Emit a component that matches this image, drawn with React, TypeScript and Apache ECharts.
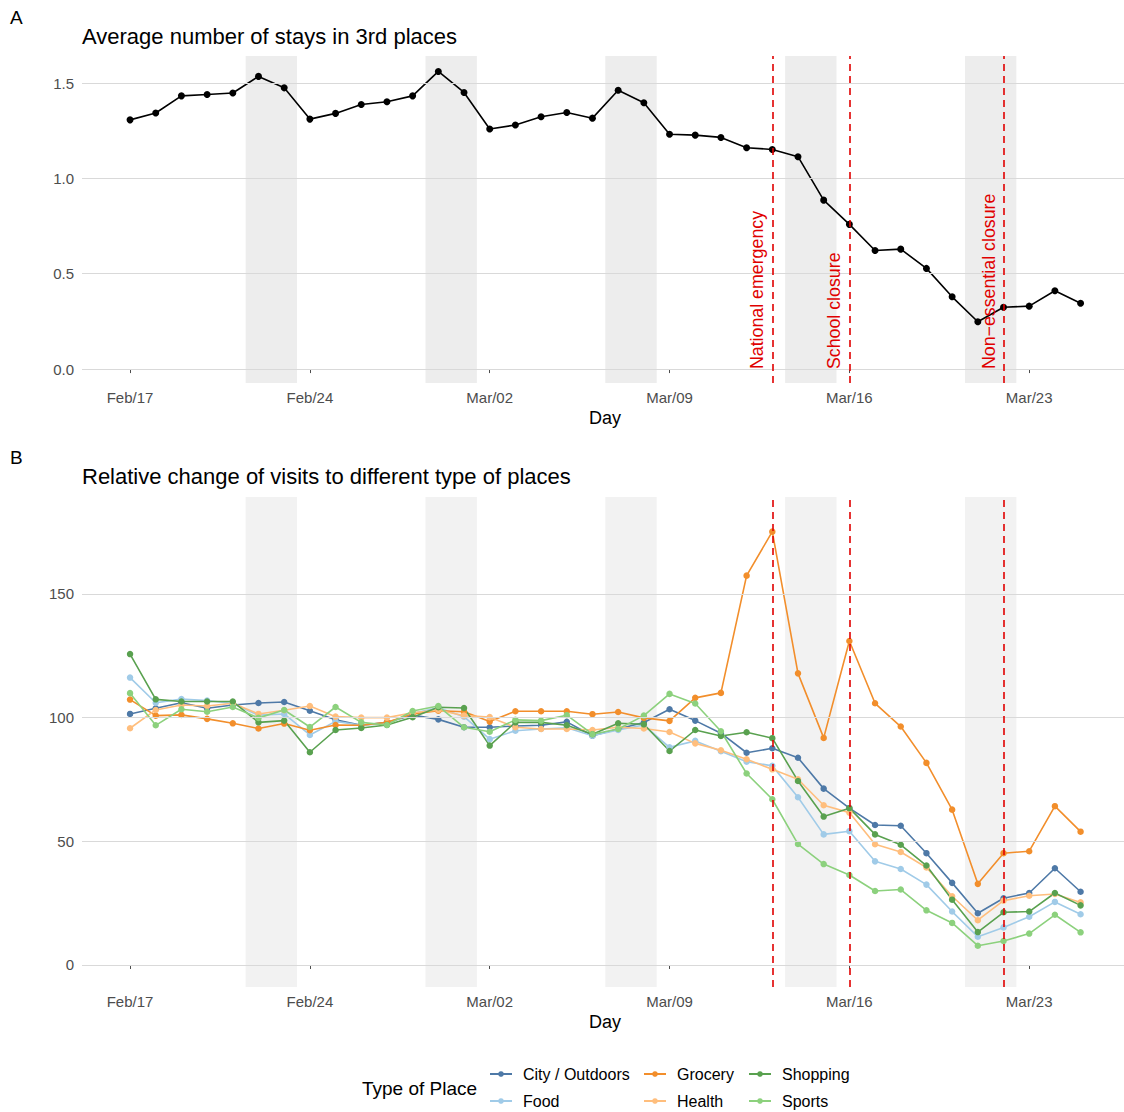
import React, { useEffect, useRef } from "react";
import * as echarts from "echarts";

// Daily axis, Feb 17 to Mar 25 2020
const days = [
  "Feb/17", "Feb/18", "Feb/19", "Feb/20", "Feb/21", "Feb/22", "Feb/23", "Feb/24",
  "Feb/25", "Feb/26", "Feb/27", "Feb/28", "Feb/29", "Mar/01", "Mar/02", "Mar/03",
  "Mar/04", "Mar/05", "Mar/06", "Mar/07", "Mar/08", "Mar/09", "Mar/10", "Mar/11",
  "Mar/12", "Mar/13", "Mar/14", "Mar/15", "Mar/16", "Mar/17", "Mar/18", "Mar/19",
  "Mar/20", "Mar/21", "Mar/22", "Mar/23", "Mar/24", "Mar/25",
];
const tickDays = ["Feb/17", "Feb/24", "Mar/02", "Mar/09", "Mar/16", "Mar/23"];

// Weekends (shaded bands)
const weekends = [
  ["Feb/22", "Feb/23"],
  ["Feb/29", "Mar/01"],
  ["Mar/07", "Mar/08"],
  ["Mar/14", "Mar/15"],
  ["Mar/21", "Mar/22"],
];

// Policy events
const events = [
  { day: "Mar/13", label: "National emergency" },
  { day: "Mar/16", label: "School closure" },
  { day: "Mar/22", label: "Non\u2212essential closure" },
];

// Panel A: average number of stays in 3rd places
const stays = [
  1.307, 1.343, 1.433, 1.44, 1.448, 1.535, 1.475, 1.311, 1.341, 1.388, 1.402, 1.433, 1.561,
  1.451, 1.259, 1.28, 1.323, 1.346, 1.316, 1.462, 1.397, 1.232, 1.227, 1.215, 1.161, 1.152,
  1.114, 0.886, 0.759, 0.622, 0.629, 0.528, 0.379, 0.248, 0.324, 0.33, 0.411, 0.345,
];
const staysTicks = [0, 0.5, 1, 1.5];

// Panel B: relative change of visits, by type of place
const placeTypes = ["City / Outdoors", "Food", "Grocery", "Health", "Shopping", "Sports"];
const placeColors = ["#4E79A7", "#A0CBE8", "#F28E2B", "#FFBE7D", "#59A14F", "#8CD17D"];

const cityOutdoors = [
  101.5, 103.8, 106, 103.8, 105.1, 105.9, 106.3, 102.8, 99.1, 96.9, 98.1, 101, 99.3,
  96.1, 96.1, 96.6, 96.9, 98.3, 92.7, 95.4, 98.0, 103.4, 98.8, 93.7, 85.8, 87.6, 83.8,
  71.3, 63.4, 56.6, 56.3, 45.2, 33.2, 20.9, 27.0, 29.1, 39.1, 29.6,
];
const food = [
  116.2, 106, 107.5, 106.9, 105.7, 101, 101.5, 93.0, 98.5, 96.9, 97.6, 101.8, 104,
  100.4, 91.3, 94.7, 95.4, 95.9, 92.7, 95, 97, 88.0, 90.6, 86.4, 82.2, 80.5, 67.8,
  52.8, 54.1, 41.9, 38.8, 32.5, 21.6, 11.4, 15.2, 19.5, 25.5, 20.5,
];
const grocery = [
  107.3, 100.8, 101.1, 99.5, 97.7, 95.6, 97.6, 94.9, 97.0, 96.9, 98.1, 101.5, 102.8,
  102.4, 98.4, 102.6, 102.6, 102.6, 101.4, 102.3, 99.9, 98.7, 108, 110, 157.4, 175.2, 117.9,
  91.8, 131.0, 105.8, 96.4, 81.7, 62.8, 32.8, 45.2, 46.0, 64.2, 53.9,
];
const health = [
  95.7, 103.1, 105.1, 104.7, 105.8, 101.5, 103, 104.7, 100.4, 100, 100, 102.0, 103.1,
  100.8, 100.2, 96.1, 95.4, 95.4, 95.0, 96.1, 95.6, 94.2, 89.6, 86.8, 83.2, 79.1, 75.1,
  64.6, 61.6, 48.8, 45.7, 39.4, 27.8, 18.1, 26.0, 28.0, 28.7, 25.3,
];
const shopping = [
  125.7, 107.4, 106.5, 106.5, 106.5, 98.1, 98.8, 86.0, 95.0, 95.8, 97.0, 100.2, 104.2,
  103.9, 88.7, 98.1, 98.1, 96.9, 93.3, 97.7, 97.3, 86.5, 95.0, 92.6, 94.1, 91.7, 74.4,
  60.0, 63.4, 52.8, 48.6, 40.2, 26.4, 13.3, 21.3, 21.6, 29.1, 24.1,
];
const sports = [
  109.9, 96.9, 103.4, 102.4, 104.3, 99.9, 103.1, 96.2, 104.3, 98.1, 97.0, 102.7, 104.7,
  96.1, 94.3, 99.1, 98.8, 101, 93.3, 95.4, 100.8, 109.6, 105.7, 94.5, 77.4, 67.0, 48.9,
  40.8, 36.4, 29.9, 30.5, 22.1, 17.0, 7.8, 9.7, 12.7, 20.3, 13.2,
];
const visitsTicks = [0, 50, 100, 150];

const FONT = '"Liberation Sans", Arial, Helvetica, sans-serif';
const AXIS_GREY = "#4d4d4d";
const GRID_GREY = "#d9d9d9";
const EVENT_RED = "#e00000";

const idx = (d: string) => days.indexOf(d);
const pairs = (vals: number[]) => vals.map((v, i) => [i, v]);

function xAxisFor(gridIndex: number) {
  const tickIdx = tickDays.map(idx);
  return {
    type: "value" as const,
    gridIndex,
    min: -1.87,
    max: 38.69,
    splitLine: { show: false },
    axisLine: { show: false },
    axisTick: {
      show: true,
      length: 4,
      customValues: tickIdx,
      lineStyle: { color: AXIS_GREY, width: 1 },
    },
    axisLabel: {
      customValues: tickIdx,
      formatter: (v: number) => days[Math.round(v)] ?? "",
      color: AXIS_GREY,
      fontSize: 15,
      fontFamily: FONT,
      margin: 7,
    },
  };
}

function yAxisFor(gridIndex: number, min: number, max: number, ticks: number[], digits: number) {
  return {
    type: "value" as const,
    gridIndex,
    min,
    max,
    splitLine: { show: false },
    axisLine: { show: false },
    axisTick: {
      show: true,
      length: 4,
      customValues: ticks,
      lineStyle: { color: AXIS_GREY, width: 1 },
    },
    axisLabel: {
      customValues: ticks,
      formatter: (v: number) => v.toFixed(digits),
      color: AXIS_GREY,
      fontSize: 15,
      fontFamily: FONT,
      margin: 8,
    },
  };
}

// Background layer for a panel: weekend bands and horizontal grid lines
function backdrop(gridIndex: number, ticks: number[], bandColor: string) {
  return {
    type: "line" as const,
    xAxisIndex: gridIndex,
    yAxisIndex: gridIndex,
    data: [],
    z: 1,
    silent: true,
    markArea: {
      silent: true,
      itemStyle: { color: bandColor },
      data: weekends.map(([a, b]) => [{ xAxis: idx(a) - 0.5 }, { xAxis: idx(b) + 0.5 }]),
    },
    markLine: {
      silent: true,
      symbol: ["none", "none"],
      label: { show: false },
      lineStyle: { color: GRID_GREY, width: 1, type: "solid" },
      data: ticks.map((t) => ({ yAxis: t })),
    },
  };
}

// Dashed event markers for a panel
function eventLines(gridIndex: number) {
  return {
    type: "line" as const,
    xAxisIndex: gridIndex,
    yAxisIndex: gridIndex,
    data: [],
    z: 6,
    silent: true,
    markLine: {
      silent: true,
      symbol: ["none", "none"],
      label: { show: false },
      lineStyle: { color: EVENT_RED, width: 1.6, type: [7, 5] },
      data: events.map((e) => ({ xAxis: idx(e.day) })),
    },
  };
}

const placeSeries = [cityOutdoors, food, grocery, health, shopping, sports];

const baseGraphics = [
  { type: "text", x: 10, y: 17, style: { text: "A", font: `19px ${FONT}`, fill: "#000", verticalAlign: "middle" } },
  {
    type: "text",
    x: 82,
    y: 36,
    style: {
      text: "Average number of stays in 3rd places",
      font: `22px ${FONT}`,
      fill: "#000",
      verticalAlign: "middle",
    },
  },
  {
    type: "text",
    x: 605,
    y: 418,
    style: { text: "Day", font: `18px ${FONT}`, fill: "#000", align: "center", verticalAlign: "middle" },
  },
  { type: "text", x: 10, y: 457, style: { text: "B", font: `19px ${FONT}`, fill: "#000", verticalAlign: "middle" } },
  {
    type: "text",
    x: 82,
    y: 476,
    style: {
      text: "Relative change of visits to different type of places",
      font: `22px ${FONT}`,
      fill: "#000",
      verticalAlign: "middle",
    },
  },
  {
    type: "text",
    x: 605,
    y: 1022,
    style: { text: "Day", font: `18px ${FONT}`, fill: "#000", align: "center", verticalAlign: "middle" },
  },
  {
    type: "text",
    x: 362,
    y: 1088,
    style: { text: "Type of Place", font: `19px ${FONT}`, fill: "#000", verticalAlign: "middle" },
  },
];

function legendBlock(left: number, names: string[]) {
  return {
    orient: "vertical" as const,
    left,
    top: 1066,
    padding: 0,
    itemGap: 11,
    itemWidth: 22,
    itemHeight: 7,
    data: names,
    selectedMode: false,
    textStyle: {
      fontSize: 16,
      lineHeight: 16,
      fontFamily: FONT,
      color: "#000",
      padding: [0, 0, 0, 6],
    },
  };
}

export default function App() {
  const ref = useRef<HTMLDivElement>(null);

  useEffect(() => {
    if (!ref.current) return;
    const chart = echarts.init(ref.current, null, { renderer: "svg" });

    const option = {
      animation: false,
      textStyle: { fontFamily: FONT },
      grid: [
        { left: 82, right: 0, top: 56, height: 327 },
        { left: 82, right: 0, top: 497, height: 490 },
      ],
      xAxis: [xAxisFor(0), xAxisFor(1)],
      yAxis: [
        yAxisFor(0, -0.073, 1.642, staysTicks, 1),
        yAxisFor(1, -8.9, 189.2, visitsTicks, 0),
      ],
      legend: [
        legendBlock(489, [placeTypes[0], placeTypes[1]]),
        legendBlock(643, [placeTypes[2], placeTypes[3]]),
        legendBlock(748, [placeTypes[4], placeTypes[5]]),
      ],
      graphic: { elements: baseGraphics },
      series: [
        backdrop(0, staysTicks, "#ededed"),
        backdrop(1, visitsTicks, "#f2f2f2"),
        {
          type: "line",
          name: "Average stays",
          xAxisIndex: 0,
          yAxisIndex: 0,
          data: pairs(stays),
          z: 3,
          symbol: "circle",
          symbolSize: 7,
          itemStyle: { color: "#000" },
          lineStyle: { color: "#000", width: 1.6 },
          emphasis: { disabled: true },
        },
        ...placeSeries.map((vals, i) => ({
          type: "line",
          name: placeTypes[i],
          xAxisIndex: 1,
          yAxisIndex: 1,
          data: pairs(vals),
          z: 3,
          symbol: "circle",
          symbolSize: 6.5,
          itemStyle: { color: placeColors[i] },
          lineStyle: { color: placeColors[i], width: 1.6 },
          emphasis: { disabled: true },
        })),
        eventLines(0),
        eventLines(1),
      ],
    };

    chart.setOption(option as any);

    // Rotated event captions, anchored at y = 0 just left of each marker
    const eventTexts = events.map((e) => {
      const [px, py] = chart.convertToPixel({ xAxisIndex: 0, yAxisIndex: 0 }, [idx(e.day), 0]) as number[];
      return {
        type: "text",
        x: px - 15,
        y: py,
        rotation: Math.PI / 2,
        z: 10,
        style: {
          text: e.label,
          font: `17.8px ${FONT}`,
          fill: EVENT_RED,
          align: "left",
          verticalAlign: "middle",
        },
      };
    });
    chart.setOption({ graphic: { elements: [...baseGraphics, ...eventTexts] } } as any);

    return () => chart.dispose();
  }, []);

  return (
    <div
      ref={ref}
      style={{ position: "absolute", left: 0, top: 0, width: 1124, height: 1112, background: "#fff" }}
    />
  );
}
